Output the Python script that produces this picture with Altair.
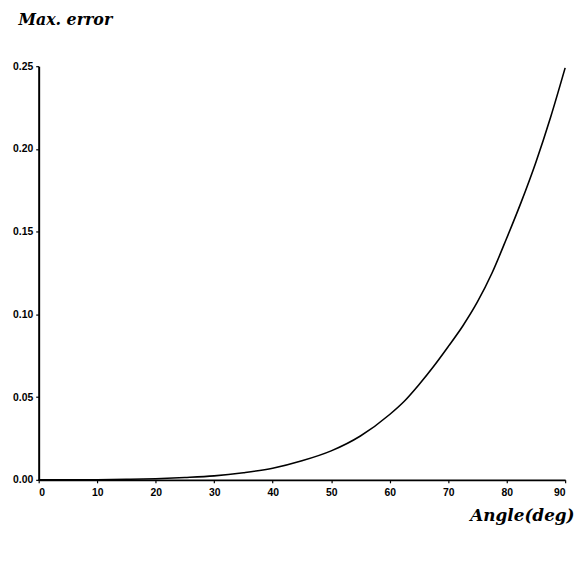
import altair as alt
import pandas as pd

angles = [0, 5, 10, 15, 20, 25, 30, 35, 40, 45, 50, 55, 60, 62.5, 65, 67.5, 70, 72.5, 75, 77.5, 80, 82.5, 85, 87.5, 90]
max_error = [0.0, 0.0, 0.0001, 0.0003, 0.0007, 0.0014, 0.0024, 0.0043, 0.0070, 0.0115, 0.0175, 0.0265, 0.0395,
             0.0475, 0.0575, 0.0685, 0.0805, 0.0930, 0.1075, 0.1250, 0.1460, 0.1680, 0.1920, 0.2190, 0.2490]
x_ticks = [0, 10, 20, 30, 40, 50, 60, 70, 80, 90]
y_ticks = [0.0, 0.05, 0.10, 0.15, 0.20, 0.25]

df = pd.DataFrame({"angle": angles, "err": max_error})

title_font = "DejaVu Serif"
label_font = "Liberation Sans"

chart = alt.Chart(df).mark_line(color="black", strokeWidth=1.6, interpolate="monotone").encode(
    x=alt.X("angle:Q",
            scale=alt.Scale(domain=[0, 90], nice=False),
            axis=alt.Axis(values=x_ticks, format="d", title="Angle(deg)",
                          titleAngle=0, titleX=541, titleY=36, titleAlign="right",
                          titleBaseline="middle", titleFont=title_font, titleFontSize=17,
                          titleFontStyle="italic", titleFontWeight="bold", titleColor="black",
                          labelFont=label_font, labelFontSize=10.5, labelFontWeight="bold",
                          labelColor="black", labelPadding=5, tickSize=3, tickColor="black",
                          domainColor="black", domainWidth=1.6, tickWidth=1.2, grid=False)),
    y=alt.Y("err:Q",
            scale=alt.Scale(domain=[0, 0.25], nice=False),
            axis=alt.Axis(values=y_ticks, format=".2f", title="Max. error",
                          titleAngle=0, titleX=-21, titleY=-55, titleAlign="left",
                          titleBaseline="top", titleFont=title_font, titleFontSize=16,
                          titleFontStyle="italic", titleFontWeight="bold", titleColor="black",
                          labelFont=label_font, labelFontSize=10.5, labelFontWeight="bold",
                          labelColor="black", labelPadding=3, tickSize=3, tickColor="black",
                          domainColor="black", domainWidth=2, tickWidth=1.2, grid=False)),
).properties(
    width=532, height=418,
    background="white",
    autosize=alt.AutoSizeParams(type="none"),
    padding={"left": 31, "top": 56, "right": 14, "bottom": 60},
).configure_view(stroke=None, strokeWidth=0)

chart.save("out.html", embed_options={"renderer": "svg", "actions": False})
